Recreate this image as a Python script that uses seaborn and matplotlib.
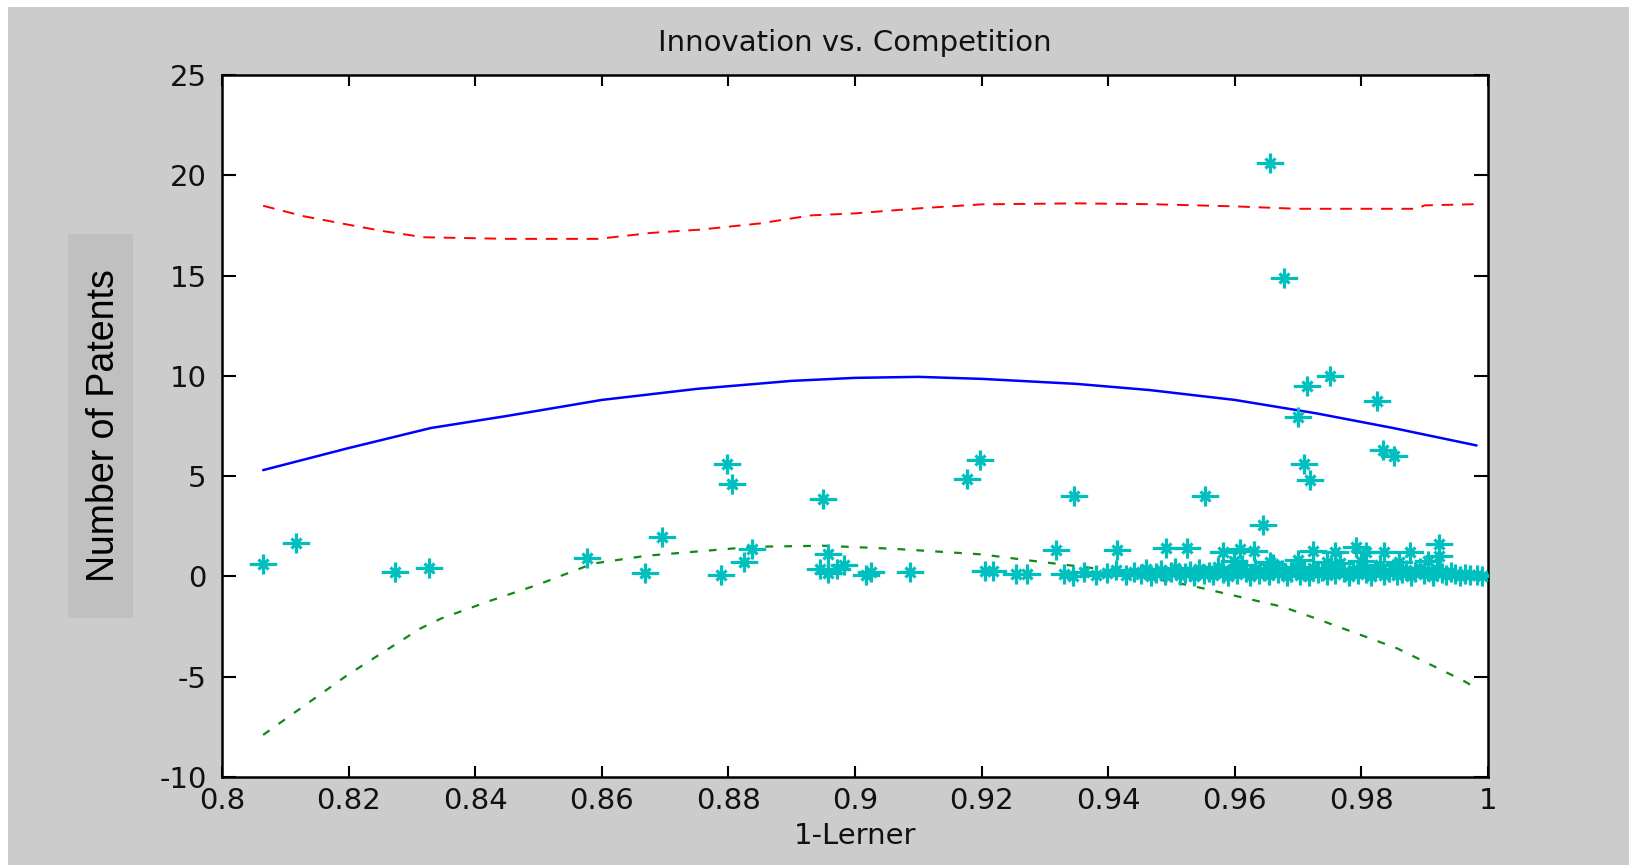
import numpy as np
import pandas as pd
import seaborn as sns
import matplotlib.pyplot as plt
from matplotlib.path import Path
from matplotlib.patches import Rectangle

# patent counts vs 1-Lerner
patents_x = [0.8064, 0.8117, 0.8274, 0.8327, 0.8576, 0.8668, 0.8695, 0.8788, 0.8797, 0.8806,
             0.8825, 0.8838, 0.8950, 0.8945, 0.8958, 0.8958, 0.8971, 0.8982, 0.9018, 0.9026,
             0.9087, 0.9177, 0.9197, 0.9205, 0.9218, 0.9254, 0.9271, 0.9318, 0.9346, 0.9414,
             0.9492, 0.9525, 0.9553, 0.9582, 0.9608, 0.9630, 0.9645, 0.9655, 0.9677, 0.9700,
             0.9709, 0.9714, 0.9719, 0.9724, 0.9750, 0.9758, 0.9792, 0.9808, 0.9824, 0.9834,
             0.9835, 0.9852, 0.9877, 0.9922, 0.9922, 0.9982,
             0.9330, 0.9345, 0.9362, 0.9381, 0.9398, 0.9412, 0.9428, 0.9441, 0.9452, 0.9460,
             0.9467, 0.9475, 0.9483, 0.9490, 0.9499, 0.9506, 0.9513, 0.9521, 0.9529, 0.9536,
             0.9544, 0.9551, 0.9559, 0.9566, 0.9574, 0.9581, 0.9589, 0.9596, 0.9603, 0.9611,
             0.9617, 0.9624, 0.9632, 0.9639, 0.9646, 0.9654, 0.9661, 0.9668, 0.9675, 0.9682,
             0.9689, 0.9696, 0.9703, 0.9710, 0.9717, 0.9724, 0.9731, 0.9738, 0.9745, 0.9752,
             0.9759, 0.9766, 0.9773, 0.9780, 0.9787, 0.9794, 0.9801, 0.9808, 0.9815, 0.9822,
             0.9829, 0.9836, 0.9843, 0.9850, 0.9857, 0.9864, 0.9871, 0.9878, 0.9885, 0.9892,
             0.9899, 0.9906, 0.9913, 0.9920, 0.9927, 0.9934, 0.9941, 0.9948, 0.9955, 0.9963,
             0.9972, 0.9990,
             0.9598, 0.9655, 0.9700, 0.9745, 0.9800, 0.9860, 0.9905]
patents_y = [0.62, 1.65, 0.20, 0.40, 0.93, 0.15, 1.96, 0.08, 5.61, 4.59,
             0.74, 1.37, 3.88, 0.38, 1.12, 0.16, 0.38, 0.58, 0.05, 0.21,
             0.20, 4.85, 5.80, 0.25, 0.28, 0.13, 0.13, 1.32, 4.00, 1.32,
             1.42, 1.42, 4.00, 1.20, 1.37, 1.29, 2.57, 20.6, 14.9, 7.97,
             5.61, 9.49, 4.79, 1.29, 10.0, 1.20, 1.45, 1.20, 8.76, 6.32,
             1.20, 6.02, 1.20, 1.62, 1.04, 0.05,
             0.13, 0.02, 0.20, 0.08, 0.15, 0.30, 0.05, 0.22, 0.10, 0.38,
             0.02, 0.18, 0.30, 0.07, 0.22, 0.40, 0.05, 0.15, 0.28, 0.02,
             0.35, 0.12, 0.22, 0.05, 0.45, 0.18, 0.03, 0.30, 0.10, 0.55,
             0.20, 0.02, 0.38, 0.12, 0.25, 0.05, 0.60, 0.15, 0.32, 0.03,
             0.20, 0.45, 0.08, 0.28, 0.02, 0.40, 0.15, 0.25, 0.05, 0.35,
             0.12, 0.65, 0.20, 0.03, 0.30, 0.10, 0.45, 0.18, 0.02, 0.28,
             0.55, 0.08, 0.22, 0.38, 0.05, 0.15, 0.30, 0.02, 0.20, 0.42,
             0.10, 0.25, 0.03, 0.35, 0.15, 0.05, 0.22, 0.10, 0.02, 0.12,
             0.05, 0.02,
             0.75, 0.70, 0.80, 0.72, 0.78, 0.70, 0.75]

# fitted curve and its bounds
fit_x = [0.8065, 0.82, 0.833, 0.845, 0.86, 0.875, 0.89, 0.90, 0.91, 0.92,
         0.935, 0.9466, 0.96, 0.9729, 0.985, 0.9982]
fit_y = [5.3, 6.4, 7.4, 8.0, 8.8, 9.35, 9.75, 9.9, 9.95, 9.85,
         9.6, 9.29, 8.8, 8.13, 7.4, 6.53]
upper_x = [0.8065, 0.8129, 0.8199, 0.8256, 0.8319, 0.8453, 0.8594, 0.8679, 0.8755, 0.8850,
           0.8930, 0.9000, 0.9100, 0.9200, 0.9350, 0.9466, 0.9600, 0.9698, 0.9800, 0.9887,
           0.9900, 0.9982]
upper_y = [18.48, 17.96, 17.54, 17.21, 16.91, 16.83, 16.83, 17.13, 17.29, 17.6,
           18.0, 18.1, 18.35, 18.55, 18.6, 18.56, 18.45, 18.33, 18.33, 18.33,
           18.5, 18.56]
lower_x = [0.8065, 0.8199, 0.8313, 0.8346, 0.8425, 0.85, 0.8586, 0.867, 0.884, 0.895,
           0.906, 0.92, 0.9277, 0.9385, 0.953, 0.9676, 0.9724, 0.9856, 0.9960, 0.9981]
lower_y = [-7.9, -4.9, -2.6, -2.1, -1.2, -0.4, 0.64, 1.03, 1.48, 1.53,
           1.38, 1.1, 0.79, 0.38, -0.45, -1.52, -2.05, -3.58, -5.18, -5.56]

x_ticks = [0.8, 0.82, 0.84, 0.86, 0.88, 0.9, 0.92, 0.94, 0.96, 0.98, 1.0]
x_tick_labels = ["0.8", "0.82", "0.84", "0.86", "0.88", "0.9", "0.92", "0.94", "0.96", "0.98", "1"]
y_ticks = [-10, -5, 0, 5, 10, 15, 20, 25]

sns.set_style("ticks")
plt.rcParams['font.family'] = ['DejaVu Sans']

W, H = 1629, 867
fig = plt.figure(figsize=(W / 100, H / 100), dpi=100, facecolor='white')
# gray window background and the shaded box behind the y label
fig.patches.append(Rectangle((8 / W, 2 / H), 1, 858 / H, transform=fig.transFigure,
                             facecolor='#cccccc', edgecolor='none', zorder=-10))
fig.patches.append(Rectangle((68 / W, 1 - 618 / H), 65 / W, 384 / H, transform=fig.transFigure,
                             facecolor='#c0c0c0', edgecolor='none', zorder=-9))

ax = fig.add_axes([222 / W, 1 - 777 / H, 1266 / W, 702 / H])
ax.set_facecolor('white')

# matlab style asterisk, wider than tall
star = Path([(-1.5, 0), (1.5, 0), (0, -1.1), (0, 1.1),
             (-0.55, -0.55), (0.55, 0.55), (-0.55, 0.55), (0.55, -0.55)],
            [Path.MOVETO, Path.LINETO] * 4)

cyan = '#00bfbf'
df = pd.DataFrame({'x': patents_x, 'y': patents_y})
sns.lineplot(x=upper_x, y=upper_y, ax=ax, color='#ff0000', linewidth=1.4,
             linestyle=(0, (6, 4.5)), estimator=None, sort=False, zorder=2)
sns.lineplot(x=lower_x, y=lower_y, ax=ax, color='#108a10', linewidth=1.6,
             linestyle=(0, (3.5, 5)), estimator=None, sort=False, zorder=2)
sns.lineplot(x=fit_x, y=fit_y, ax=ax, color='#0000ff', linewidth=1.8,
             estimator=None, sort=False, zorder=2)
sns.scatterplot(data=df, x='x', y='y', ax=ax, marker=star, s=390, color=cyan,
                edgecolor=cyan, linewidth=2.3, zorder=3)

ax.set_xlim(0.8, 1.0)
ax.set_ylim(-10, 25)
ax.set_xticks(x_ticks, x_tick_labels)
ax.set_yticks(y_ticks, [str(v) for v in y_ticks])
ax.tick_params(direction='in', top=True, right=True, labelsize=21, width=1.5,
               color='black', labelcolor='#111111')
ax.tick_params(axis='x', length=8, pad=7)
ax.tick_params(axis='y', length=10, pad=11)
for s in ax.spines.values():
    s.set_linewidth(1.8)
    s.set_color('black')

ax.set_title("Innovation vs. Competition", fontsize=21, pad=17, color='#111111')
ax.set_xlabel("1-Lerner", fontsize=21, labelpad=5, color='#111111')
ax.set_ylabel("Number of Patents", fontsize=27, color='black',
              family=['Liberation Sans', 'DejaVu Sans'])
ax.yaxis.label.set_verticalalignment('center')
ax.yaxis.set_label_coords(-0.0932, 0.5)

fig.savefig("out.png", dpi=100, facecolor=fig.get_facecolor())
